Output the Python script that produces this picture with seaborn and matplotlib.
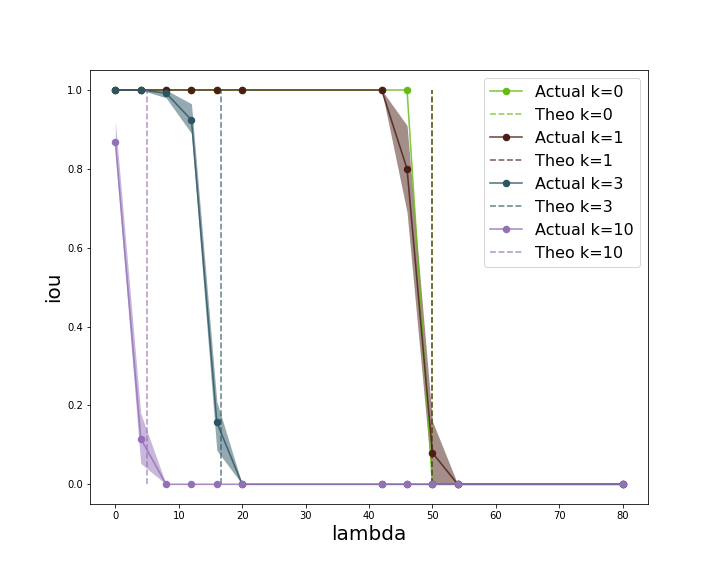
import numpy as np
import pandas as pd
import matplotlib
matplotlib.use("Agg")
import matplotlib.pyplot as plt
from matplotlib.colors import to_rgba
import seaborn as sns

# ---- data ----
lambdas = [0, 4, 8, 12, 16, 20, 42, 46, 50, 54, 80]

ks = [0, 1, 3, 10]
colors = ["#66bb11", "#4b1e14", "#2c5564", "#9370b8"]
theo_lambda = [50, 50, 16.67, 5]

# replicate runs per lambda (rows follow `lambdas`)
iou_k0 = [[1], [1], [1], [1], [1], [1], [1], [1], [0], [0], [0]]
iou_k1 = [
    [1, 1, 1, 1, 1],
    [1, 1, 1, 1, 1],
    [1, 1, 1, 1, 1],
    [1, 1, 1, 1, 1],
    [1, 1, 1, 1, 1],
    [1, 1, 1, 1, 1],
    [1, 1, 1, 1, 1],
    [0.69, 0.76, 0.80, 0.84, 0.91],
    [0.0, 0.04, 0.08, 0.12, 0.16],
    [0, 0, 0, 0, 0],
    [0, 0, 0, 0, 0],
]
iou_k3 = [
    [1, 1, 1, 1, 1],
    [1, 1, 1, 1, 1],
    [1, 1, 1, 0.98, 0.98],
    [0.89, 0.90, 0.93, 0.935, 0.965],
    [0.086, 0.13, 0.16, 0.199, 0.21],
    [0, 0, 0, 0, 0],
    [0, 0, 0, 0, 0],
    [0, 0, 0, 0, 0],
    [0, 0, 0, 0, 0],
    [0, 0, 0, 0, 0],
    [0, 0, 0, 0, 0],
]
iou_k10 = [
    [0.84, 0.84, 0.86, 0.88, 0.92],
    [0.053, 0.09, 0.12, 0.137, 0.18],
    [0, 0, 0, 0, 0],
    [0, 0, 0, 0, 0],
    [0, 0, 0, 0, 0],
    [0, 0, 0, 0, 0],
    [0, 0, 0, 0, 0],
    [0, 0, 0, 0, 0],
    [0, 0, 0, 0, 0],
    [0, 0, 0, 0, 0],
    [0, 0, 0, 0, 0],
]
theo_y = [0, 1]

all_iou = [iou_k0, iou_k1, iou_k3, iou_k10]

fig = plt.figure(figsize=(10, 8), dpi=72)
ax = fig.add_subplot(111)
fig.subplots_adjust(left=0.125, right=0.9, top=0.878, bottom=0.125)

for k, col, theo, runs in zip(ks, colors, theo_lambda, all_iou):
    rows = [(lam, v) for lam, reps in zip(lambdas, runs) for v in reps]
    df = pd.DataFrame(rows, columns=["lambda", "iou"])
    sns.lineplot(data=df, x="lambda", y="iou", ax=ax, color=col,
                 marker="o", markersize=7.5, markeredgewidth=0,
                 linewidth=1.6, errorbar=("pi", 100),
                 err_kws={"alpha": 0.5, "linewidth": 0},
                 label=f"Actual k={k}")
    line = ax.lines[-1]
    line.set_alpha(None)
    line.set_color(to_rgba(col, 0.8))
    line.set_markerfacecolor(col)
    line.set_markeredgecolor(col)
    ax.plot([theo, theo], theo_y, ls="--", color=col, alpha=0.7,
            linewidth=1.6, label=f"Theo k={k}")

ax.set_xlabel("lambda", fontsize=20)
ax.set_ylabel("iou", fontsize=20)
ax.legend(loc="upper right", fontsize=16)

fig.savefig("out.png", dpi=72)
